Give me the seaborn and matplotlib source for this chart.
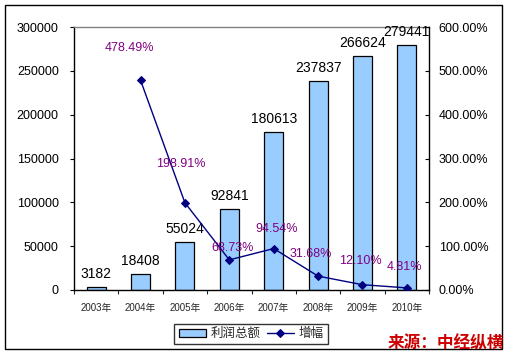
import numpy as np
import pandas as pd
import matplotlib
matplotlib.use("Agg")
import matplotlib.pyplot as plt
import seaborn as sns
from matplotlib.patches import Rectangle
from matplotlib.ticker import FuncFormatter, MultipleLocator

sns.set_style("white")
plt.rcParams['font.family'] = ['Liberation Sans', 'Noto Sans CJK SC', 'DejaVu Sans']

years = ["2003年", "2004年", "2005年", "2006年", "2007年", "2008年", "2009年", "2010年"]
profit = [3182, 18408, 55024, 92841, 180613, 237837, 266624, 279441]
growth_years = ["2004年", "2005年", "2006年", "2007年", "2008年", "2009年", "2010年"]
growth = [478.49, 198.91, 68.73, 94.54, 31.68, 12.10, 4.81]
bar_name = "利润总额"
line_name = "增幅"
source = "来源：中经纵横"

# label offsets in pixels (dx, dy) -- styling only
pct_offsets = [(-11, 32), (-4, 39), (3, 12), (3, 20), (-7, 22), (-2, 24), (-2, 21)]

fig = plt.figure(figsize=(5.11, 3.57), dpi=100)
ax = fig.add_axes([74/511, 1-290/357, (429-74)/511, (290-27)/357])

df = pd.DataFrame({"year": years, "profit": profit})
sns.barplot(data=df, x="year", y="profit", color="#99CCFF", edgecolor="black",
            linewidth=0.9, width=0.43, saturation=1, ax=ax, label=bar_name)
ax.set_xlim(-0.5, len(years) - 0.5)
ax.set_ylim(0, 300000)
ax.yaxis.set_major_locator(MultipleLocator(50000))
ax.set_xlabel("")
ax.set_ylabel("")

for i, v in enumerate(profit):
    ax.annotate(str(v), (i, v), xytext=(0, 13), textcoords="offset pixels",
                ha="center", va="center", fontsize=10, color="black")

ax2 = ax.twinx()
gx = [years.index(y) for y in growth_years]
gdf = pd.DataFrame({"x": gx, "g": growth})
sns.lineplot(data=gdf, x="x", y="g", color="#000080", marker="D", markersize=4.5,
             markeredgecolor="#000080", linewidth=1, ax=ax2, label=line_name)
ax2.set_ylim(0, 600)
ax2.yaxis.set_major_locator(MultipleLocator(100))
ax2.yaxis.set_major_formatter(FuncFormatter(lambda v, p: f"{v:.2f}%"))
ax2.set_ylabel("")
ax2.set_xlabel("")
ax2.set_xlim(-0.5, len(years) - 0.5)

for (x, g), (dx, dy) in zip(zip(gx, growth), pct_offsets):
    ax2.annotate(f"{g:.2f}%", (x, g), xytext=(dx, dy), textcoords="offset pixels",
                 ha="center", va="center", fontsize=9, color="#800080")

# axes styling
for a in (ax, ax2):
    for s in a.spines.values():
        s.set_visible(False)
ax.spines['left'].set_visible(True)
ax.spines['left'].set_color('black')
ax.spines['left'].set_linewidth(1)
ax.spines['bottom'].set_visible(True)
ax.spines['bottom'].set_color('black')
ax.spines['bottom'].set_linewidth(1)
ax.spines['top'].set_visible(True)
ax.spines['top'].set_color('#808080')
ax.spines['top'].set_linewidth(1)
ax2.spines['right'].set_visible(True)
ax2.spines['right'].set_color('black')
ax2.spines['right'].set_linewidth(1)

ax.tick_params(axis='y', which='major', direction='out', length=3, width=0.8,
               labelsize=9, pad=8, left=True, colors='black')
ax2.tick_params(axis='y', which='major', direction='in', length=3, width=0.8,
                labelsize=9, pad=7, right=True, colors='black')
ax.set_xticks(range(len(years)))
ax.set_xticklabels(years)
ax.tick_params(axis='x', which='major', length=0, labelsize=7, pad=9)
ax.set_xticks(np.arange(-0.5, len(years), 1), minor=True)
ax.tick_params(axis='x', which='minor', direction='out', length=3, width=0.8, bottom=True)
ax2.tick_params(axis='x', which='both', bottom=False, top=False, labelbottom=False)

# legend
h1, l1 = ax.get_legend_handles_labels()
h2, l2 = ax2.get_legend_handles_labels()
if ax2.get_legend():
    ax2.get_legend().remove()
if ax.get_legend():
    ax.get_legend().remove()
leg = fig.legend(h1 + h2, l1 + l2, loc="center", bbox_to_anchor=(251/511, 1-334/357),
                 ncol=2, frameon=True, fancybox=False, fontsize=9, handlelength=2.2,
                 handleheight=0.6, columnspacing=0.5, handletextpad=0.35,
                 borderpad=0.35, borderaxespad=0, edgecolor="black")
leg.get_frame().set_linewidth(1)

# outer border
fig.patches.append(Rectangle((5/511, 1-349/357), (502-5)/511, (349-5)/357,
                             transform=fig.transFigure, fill=False,
                             edgecolor="black", linewidth=1))

fig.text(504/511, 1-343/357, source, ha="right", va="center", fontsize=12,
         fontweight="bold", color="#CC0000",
         family=['Noto Sans CJK SC', 'DejaVu Sans'])

fig.savefig("out.png", dpi=100)
